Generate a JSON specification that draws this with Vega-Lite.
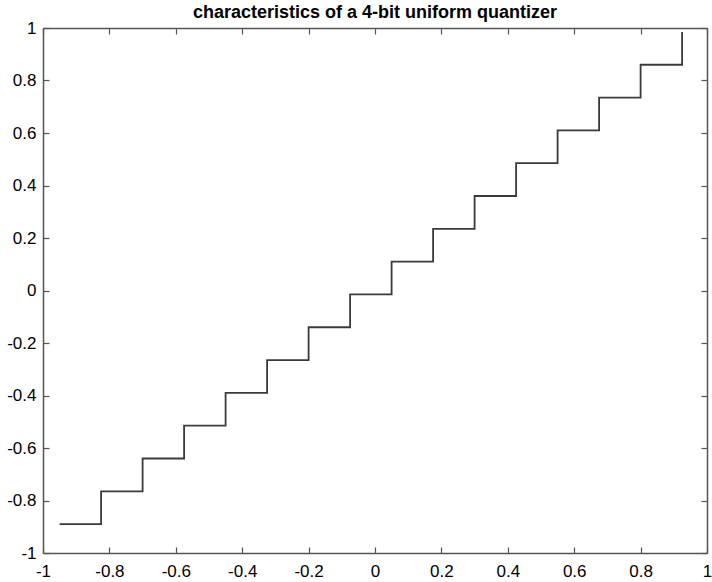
{
  "$schema": "https://vega.github.io/schema/vega-lite/v6.json",
  "autosize": "none",
  "width": 664,
  "height": 525,
  "padding": {"left": 43, "top": 28, "right": 5, "bottom": 29},
  "background": "white",
  "title": {"text": "characteristics of a 4-bit uniform quantizer", "font": "Liberation Sans", "fontSize": 18, "fontWeight": "bold", "color": "#000000", "offset": -3},
  "config": {
    "view": {"stroke": null},
    "axis": {"labelFont": "Liberation Sans", "labelFontSize": 17, "labelColor": "#000000", "domainColor": "#555555", "domainWidth": 1.5, "tickColor": "#555555", "tickWidth": 1.2, "tickSize": -6, "grid": false, "title": null, "labelFlush": false, "labelOverlap": false}
  },
  "data": {"values": [
    {"x": -0.95, "y": -0.89},
    {"x": -0.825, "y": -0.765},
    {"x": -0.7, "y": -0.64},
    {"x": -0.575, "y": -0.515},
    {"x": -0.45, "y": -0.39},
    {"x": -0.325, "y": -0.265},
    {"x": -0.2, "y": -0.14},
    {"x": -0.075, "y": -0.015},
    {"x": 0.05, "y": 0.11},
    {"x": 0.175, "y": 0.235},
    {"x": 0.3, "y": 0.36},
    {"x": 0.425, "y": 0.485},
    {"x": 0.55, "y": 0.61},
    {"x": 0.675, "y": 0.735},
    {"x": 0.8, "y": 0.86},
    {"x": 0.925, "y": 0.985}
  ]},
  "layer": [
    {
      "mark": {"type": "line", "interpolate": "step-after", "color": "#3a3a3a", "strokeWidth": 1.8},
      "encoding": {
        "x": {"field": "x", "type": "quantitative", "scale": {"domain": [-1, 1], "nice": false}, "axis": {"orient": "bottom", "values": [-1, -0.8, -0.6, -0.4, -0.2, 0, 0.2, 0.4, 0.6, 0.8, 1], "labelExpr": "'' + datum.value", "labelPadding": 16}},
        "y": {"field": "y", "type": "quantitative", "scale": {"domain": [-1, 1], "nice": false}, "axis": {"orient": "left", "values": [-1, -0.8, -0.6, -0.4, -0.2, 0, 0.2, 0.4, 0.6, 0.8, 1], "labelExpr": "'' + datum.value", "labelPadding": 13}}
      }
    },
    {
      "mark": {"type": "point", "opacity": 0},
      "encoding": {
        "x": {"field": "x", "type": "quantitative", "axis": {"orient": "top", "values": [-1, -0.8, -0.6, -0.4, -0.2, 0, 0.2, 0.4, 0.6, 0.8, 1], "labels": false}},
        "y": {"field": "y", "type": "quantitative", "axis": {"orient": "right", "values": [-1, -0.8, -0.6, -0.4, -0.2, 0, 0.2, 0.4, 0.6, 0.8, 1], "labels": false}}
      }
    }
  ],
  "resolve": {"axis": {"x": "independent", "y": "independent"}}
}
